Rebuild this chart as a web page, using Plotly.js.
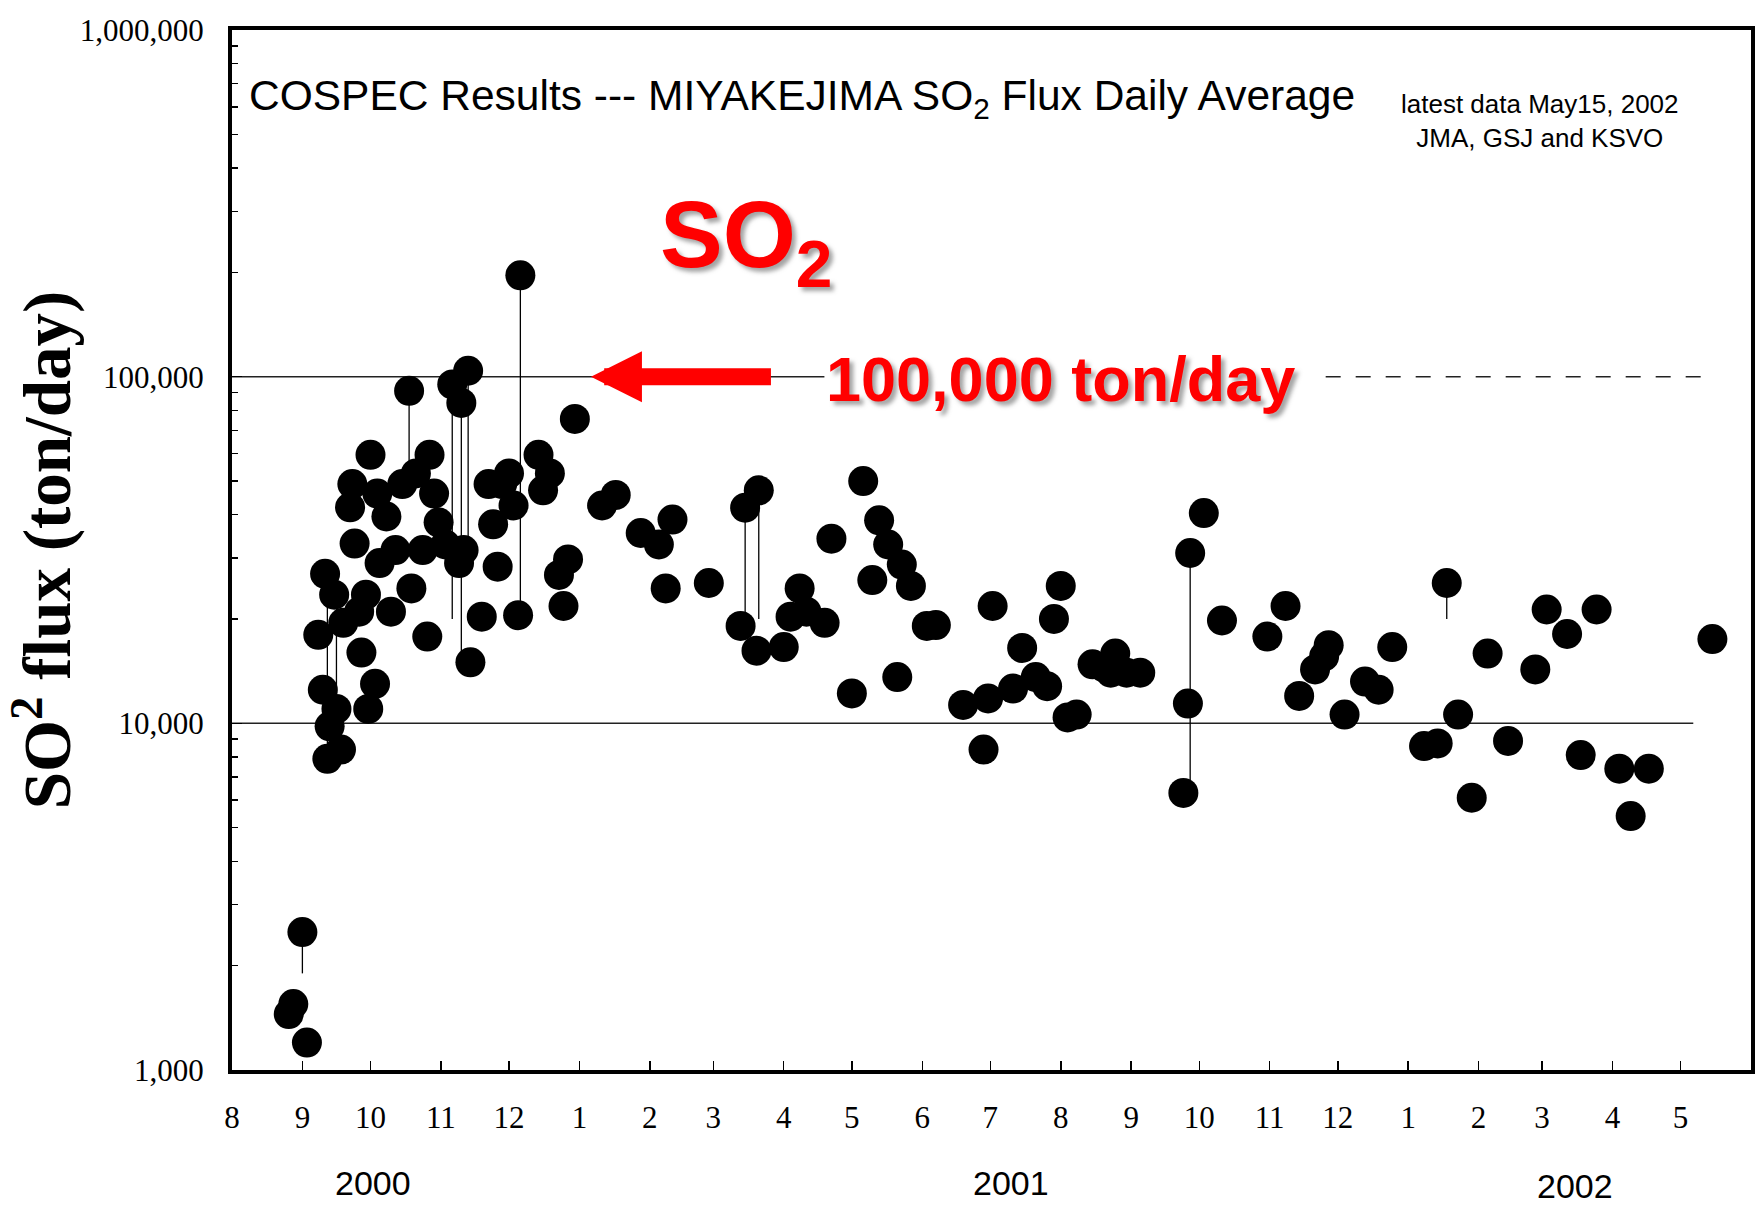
<!DOCTYPE html>
<html>
<head>
<meta charset="utf-8">
<script src="https://cdn.plot.ly/plotly-3.0.1.min.js"></script>
<style>
  html, body { margin: 0; padding: 0; background: #ffffff; }
  #chart { width: 1758px; height: 1211px; }
</style>
</head>
<body>
<div id="chart"></div>
<script>
// ---- Daily average SO2 flux observations (date, ton/day) ----
const obsDates = [
  "2000-08-26","2000-08-28","2000-09-01","2000-09-03",
  "2000-09-08","2000-09-10","2000-09-11","2000-09-12","2000-09-13","2000-09-15","2000-09-16","2000-09-18","2000-09-19",
  "2000-09-22","2000-09-23","2000-09-24","2000-09-26","2000-09-27","2000-09-29","2000-09-30",
  "2000-10-01","2000-10-03","2000-10-04","2000-10-05","2000-10-08","2000-10-10","2000-10-12","2000-10-15","2000-10-18","2000-10-19","2000-10-21","2000-10-24","2000-10-26","2000-10-27","2000-10-29","2000-10-31",
  "2000-11-03","2000-11-06","2000-11-09","2000-11-10","2000-11-11","2000-11-13","2000-11-14","2000-11-19","2000-11-22","2000-11-24","2000-11-26","2000-11-28",
  "2000-12-01","2000-12-03","2000-12-05","2000-12-06","2000-12-14","2000-12-16","2000-12-19","2000-12-23","2000-12-25","2000-12-27","2000-12-30",
  "2001-01-11","2001-01-17","2001-01-28",
  "2001-02-05","2001-02-08","2001-02-11","2001-02-27",
  "2001-03-13","2001-03-15","2001-03-20","2001-03-21",
  "2001-04-01","2001-04-04","2001-04-08","2001-04-11","2001-04-19","2001-04-22",
  "2001-05-01","2001-05-06","2001-05-10","2001-05-13","2001-05-17","2001-05-21","2001-05-23","2001-05-27",
  "2001-06-03","2001-06-07","2001-06-19","2001-06-28","2001-06-30",
  "2001-07-02","2001-07-11","2001-07-15","2001-07-21","2001-07-26","2001-07-29",
  "2001-08-01","2001-08-04","2001-08-08","2001-08-15","2001-08-20","2001-08-23","2001-08-25","2001-08-30",
  "2001-09-05","2001-09-24","2001-09-26","2001-09-27",
  "2001-10-03","2001-10-11","2001-10-31",
  "2001-11-08","2001-11-14","2001-11-21","2001-11-25","2001-11-27",
  "2001-12-04","2001-12-13","2001-12-19","2001-12-25",
  "2002-01-08","2002-01-14","2002-01-18","2002-01-23","2002-01-29",
  "2002-02-05","2002-02-14","2002-02-26",
  "2002-03-03","2002-03-12","2002-03-18","2002-03-25",
  "2002-04-04","2002-04-09","2002-04-17",
  "2002-05-15"
];
const so2Flux = [
  1450,1550,2500,1200,
  18000,12500,27000,7900,9800,23500,11000,8400,19500,
  42000,49000,33000,21000,16000,23500,11000,
  59500,13000,46000,29000,39500,21000,31600,49000,91000,24500,52600,31600,17800,59500,46000,38000,
  32800,95000,29000,84000,31600,104000,15000,20300,49000,37500,28300,49000,
  52600,42500,20500,196000,59500,47000,52600,26800,21800,29700,75500,
  42500,45600,35400,
  32800,24500,38700,25400,
  19100,41900,16200,47000,
  16600,20300,24500,21000,19500,34100,
  12200,50000,25900,38500,32800,13600,28700,24900,
  19100,19200,11300,8400,11800,
  21800,12600,16500,13600,12800,20000,
  24900,10400,10600,14800,14500,14000,15900,14000,
  14000,6300,11400,31000,
  40400,19800,17800,
  21800,12000,14300,15600,16800,
  10600,13200,12500,16600,
  8600,8750,25400,10600,6100,
  15900,8900,14300,
  21300,18100,8100,21300,
  7400,5400,7400,
  17500
];

// ---- Daily range lines (min / max within a day) ----
const rangeDates = ["2000-09-01","2000-09-12","2000-09-16","2000-10-18","2000-11-06","2000-11-10","2000-11-13","2000-12-06","2001-03-15","2001-03-21","2001-09-27","2002-01-18"];
const rangeLow   = [1900, 8000, 9000, 57000, 20000, 15000, 28000, 21000, 18000, 20000, 6500, 20000];
const rangeHigh  = [2500, 27000, 24000, 91000, 95000, 84000, 104000, 196000, 42000, 47000, 31000, 25400];

// ---- Axis ticks ----
const monthTicks = ["2000-08-01","2000-09-01","2000-10-01","2000-11-01","2000-12-01","2001-01-01","2001-02-01","2001-03-01","2001-04-01","2001-05-01","2001-06-01","2001-07-01","2001-08-01","2001-09-01","2001-10-01","2001-11-01","2001-12-01","2002-01-01","2002-02-01","2002-03-01","2002-04-01","2002-05-01"];
const monthLabels = ["8","9","10","11","12","1","2","3","4","5","6","7","8","9","10","11","12","1","2","3","4","5"];
const yTickVals = [1000, 10000, 100000, 1000000];
const yTickText = ["1,000","10,000","100,000","1,000,000"];
const yearLabels = ["2000","2001","2002"];

const minorVals = [];
[1000, 10000, 100000].forEach(function (d) { for (let k = 2; k <= 9; k++) minorVals.push(d * k); });

const rx = [], ry = [];
rangeDates.forEach(function (d, i) { rx.push(d, d, null); ry.push(rangeLow[i], rangeHigh[i], null); });

const SERIF = '"Liberation Serif", "Times New Roman", Times, serif';
const SANS = '"Liberation Sans", Arial, Helvetica, sans-serif';
const RED_SHADOW = '4px 4px 4px rgba(90,90,90,0.55)';

const traces = [
  { type: 'scatter', mode: 'lines', x: rx, y: ry, line: { color: '#000', width: 1.3 },
    hoverinfo: 'skip', showlegend: false },
  { type: 'scatter', mode: 'markers', x: obsDates, y: so2Flux,
    marker: { symbol: 'circle', size: 30, color: '#000', line: { width: 0 } },
    showlegend: false, name: 'SO2 flux' }
];

const layout = {
  width: 1758, height: 1211,
  margin: { l: 232, r: 7, t: 30, b: 141 },
  paper_bgcolor: '#ffffff', plot_bgcolor: '#ffffff',
  showlegend: false,
  title: {
    text: 'COSPEC Results --- MIYAKEJIMA SO<sub>2</sub> Flux Daily Average',
    xref: 'container', yref: 'container',
    x: 249 / 1758, xanchor: 'left', y: 1 - 95 / 1211, yanchor: 'middle',
    font: { family: SANS, size: 42.5, color: '#000' }
  },
  xaxis: {
    type: 'date', range: ['2000-08-01', '2002-06-01'],
    tickmode: 'array', tickvals: monthTicks, ticktext: monthLabels,
    ticks: 'inside', ticklen: 9, tickwidth: 1.5, tickcolor: '#000',
    showline: true, linewidth: 4, linecolor: '#000', mirror: true,
    showgrid: false, zeroline: false,
    tickfont: { family: SERIF, size: 31, color: '#000' },
    ticklabelstandoff: 17
  },
  yaxis: {
    type: 'log', range: [3, 6],
    tickmode: 'array', tickvals: yTickVals, ticktext: yTickText,
    ticks: 'inside', ticklen: 10, tickwidth: 1.5, tickcolor: '#000',
    minor: { tickmode: 'array', tickvals: minorVals, ticks: 'inside', ticklen: 6, tickwidth: 1.5, tickcolor: '#000' },
    showline: true, linewidth: 4, linecolor: '#000', mirror: true,
    showgrid: false, zeroline: false,
    tickfont: { family: SERIF, size: 31, color: '#000' },
    ticklabelstandoff: 18,
    title: { text: '<b>SO<sup>2</sup> flux (ton/day)</b>', font: { family: SERIF, size: 67, color: '#000' }, standoff: 10 }
  },
  shapes: [
    { type: 'line', layer: 'below', xref: 'paper', yref: 'paper', x0: 0, x1: 0.962, y0: 1/3, y1: 1/3, line: { color: '#222', width: 1.5 } },
    { type: 'line', layer: 'below', xref: 'paper', yref: 'paper', x0: 0, x1: 0.39, y0: 2/3, y1: 2/3, line: { color: '#222', width: 1.5 } },
    { type: 'line', layer: 'below', xref: 'paper', yref: 'paper', x0: 0.72, x1: 0.973, y0: 2/3, y1: 2/3, line: { color: '#222', width: 1.5, dash: 'longdash' } }
  ],
  annotations: [
    { xref: 'paper', yref: 'paper', x: 0.861, y: 0.9125, xanchor: 'center', yanchor: 'middle',
      text: 'latest data May15, 2002<br>JMA, GSJ and KSVO', showarrow: false,
      font: { family: SANS, size: 26, color: '#000' } },
    // red SO2 label
    { xref: 'paper', yref: 'paper', x: 0.2804, y: 0.7965, xanchor: 'left', yanchor: 'middle',
      text: '<b>SO<sub>2</sub></b>', showarrow: false,
      font: { family: SANS, size: 94, color: '#ff0000', shadow: RED_SHADOW } },
    // red 100,000 ton/day label
    { xref: 'paper', yref: 'paper', x: 0.3897, y: 0.664, xanchor: 'left', yanchor: 'middle',
      text: '<b>100,000 ton/day</b>', showarrow: false,
      font: { family: SANS, size: 63, color: '#ff0000', shadow: RED_SHADOW } },
    // red arrow pointing at the 100,000 line
    { xref: 'paper', yref: 'paper', x: 0.2363, y: 2/3, text: ' ', showarrow: true,
      ax: 183, ay: 0, arrowhead: 2, arrowwidth: 17, arrowsize: 0.6, arrowcolor: '#ff0000', standoff: 0 },
    // year labels
    { xref: 'paper', yref: 'paper', x: 0.0928, y: -0.1087, xanchor: 'center', yanchor: 'middle',
      text: yearLabels[0], showarrow: false, font: { family: SANS, size: 34, color: '#000' } },
    { xref: 'paper', yref: 'paper', x: 0.5128, y: -0.1087, xanchor: 'center', yanchor: 'middle',
      text: yearLabels[1], showarrow: false, font: { family: SANS, size: 34, color: '#000' } },
    { xref: 'paper', yref: 'paper', x: 0.884, y: -0.112, xanchor: 'center', yanchor: 'middle',
      text: yearLabels[2], showarrow: false, font: { family: SANS, size: 34, color: '#000' } }
  ]
};

Plotly.newPlot('chart', traces, layout, { displayModeBar: false, staticPlot: true });
</script>
</body>
</html>
